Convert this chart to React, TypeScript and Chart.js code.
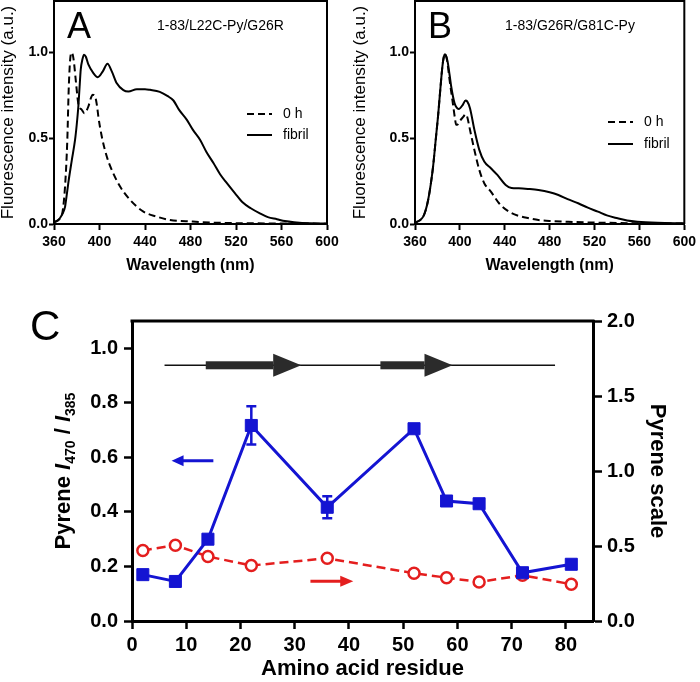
import React, { useEffect, useRef } from 'react';
import { Chart, registerables } from 'chart.js';

Chart.register(...registerables);

const FONT = '"Liberation Sans", Arial, Helvetica, sans-serif';
const BLUE = '#1414d2';
const RED = '#e41e1e';

// ---------- Panel A : 1-83/L22C-Py/G26R ----------
const aFibrilWl = [360, 363, 365.3, 367.5, 369.7, 371, 372.6, 375.6, 378.5, 380, 381.4, 382.5, 383.5, 385, 386.4, 388, 390.2, 394.6, 398.5, 402.9, 407, 410.8, 415.2, 421, 425.4, 432.8, 440, 444.5, 453, 460, 465, 470, 476.8, 482, 488.5, 494, 500.3, 506, 512, 519, 526, 533, 541, 548, 556, 563, 571, 585, 600];
const aFibrilInt = [0.01, 0.02, 0.035, 0.06, 0.1, 0.16, 0.24, 0.37, 0.49, 0.58, 0.685, 0.8, 0.9, 0.96, 0.987, 0.975, 0.93, 0.88, 0.856, 0.89, 0.934, 0.89, 0.82, 0.78, 0.772, 0.786, 0.786, 0.782, 0.77, 0.745, 0.72, 0.665, 0.607, 0.55, 0.49, 0.42, 0.354, 0.29, 0.238, 0.18, 0.125, 0.092, 0.062, 0.04, 0.028, 0.017, 0.01, 0.004, 0.003];
const a0hWl = [360, 365, 367.5, 369.7, 371.7, 372.9, 374, 374.7, 375.8, 376.7, 377.6, 379.4, 381.4, 384.4, 386.7, 388.5, 390.2, 392.5, 394, 395.5, 396.6, 398, 399, 402, 406.4, 410.8, 418.1, 427, 438.6, 450.4, 462, 482, 500, 520, 560, 600];
const a0hInt = [0.01, 0.03, 0.07, 0.218, 0.49, 0.78, 0.94, 0.987, 1.0, 0.98, 0.94, 0.82, 0.7, 0.666, 0.646, 0.66, 0.685, 0.735, 0.753, 0.75, 0.734, 0.68, 0.626, 0.51, 0.393, 0.315, 0.218, 0.14, 0.072, 0.043, 0.023, 0.014, 0.008, 0.005, 0.003, 0.002];

// ---------- Panel B : 1-83/G26R/G81C-Py ----------
const bFibrilWl = [360, 364, 367.3, 369.5, 371.7, 374, 376.1, 378.3, 380.5, 382.5, 384.4, 385.7, 386.7, 388, 389.3, 390.8, 392.3, 395.2, 397, 399, 402.6, 405, 406.5, 409, 412.9, 417.3, 421.7, 427.6, 433.4, 440.8, 446, 452.5, 461.3, 470, 480, 487.8, 496, 505.4, 514, 523, 531, 540.6, 549, 558.2, 576, 600];
const bFibrilInt = [0.008, 0.02, 0.043, 0.08, 0.14, 0.23, 0.334, 0.48, 0.626, 0.78, 0.918, 0.975, 0.99, 0.975, 0.938, 0.87, 0.8, 0.705, 0.68, 0.67, 0.695, 0.72, 0.715, 0.675, 0.55, 0.432, 0.364, 0.325, 0.286, 0.228, 0.21, 0.208, 0.204, 0.198, 0.185, 0.169, 0.145, 0.121, 0.095, 0.072, 0.05, 0.033, 0.02, 0.013, 0.007, 0.004];
const b0hWl = [360, 364, 367.3, 369.5, 371.7, 374, 376.1, 378.3, 380.5, 382.5, 384.4, 385.7, 386.7, 388.5, 390.8, 393.7, 395.5, 396.7, 398, 399.6, 403.2, 405, 406.5, 409, 412.9, 417.3, 421.7, 427.6, 434.9, 443.7, 452.5, 462, 470, 483, 496.5, 523, 560, 600];
const b0hInt = [0.008, 0.02, 0.043, 0.08, 0.14, 0.23, 0.334, 0.48, 0.626, 0.78, 0.918, 0.975, 0.99, 0.957, 0.84, 0.705, 0.62, 0.578, 0.58, 0.597, 0.626, 0.64, 0.625, 0.549, 0.432, 0.315, 0.238, 0.189, 0.121, 0.072, 0.047, 0.033, 0.023, 0.017, 0.013, 0.008, 0.004, 0.003];

const wavelengthTicks = [360, 400, 440, 480, 520, 560, 600];
const intensityTicks = [0, 0.5, 1.0];
const seriesLabels = ['0 h', 'fibril'];

// ---------- Panel C ----------
const residues = [2, 8, 14, 22, 36, 52, 58, 64, 72, 81];
const ratioI470I385 = [0.17, 0.145, 0.3, 0.717, 0.417, 0.705, 0.44, 0.43, 0.177, 0.208];
const ratioError = [0, 0, 0, 0.07, 0.04, 0, 0, 0, 0, 0];
const pyreneScale = [0.47, 0.505, 0.43, 0.37, 0.418, 0.318, 0.289, 0.26, 0.305, 0.245];
const residueTicks = [0, 10, 20, 30, 40, 50, 60, 70, 80];
const ratioTicks = [0, 0.2, 0.4, 0.6, 0.8, 1.0];
const scaleTicks = [0, 0.5, 1.0, 1.5, 2.0];
// secondary structure diagram (residue numbers, drawn at ratio level)
const topologyRange = [6, 78];
const topologyLevel = 0.9376;
const strandStart = [13.6, 45.8];
const strandTip = [31.2, 59.1];
// axis-indicator arrows: [fromResidue, toResidue, ratioLevel]
const blueArrow = [15, 7.3, 0.588];
const redArrow = [32.9, 40.8, 0.146];

const pts = (xs: number[], ys: number[]) => xs.map((x, i) => ({ x, y: ys[i] }));
const fixedTicks = (vals: number[]) => (s: any) => { s.ticks = vals.map((v) => ({ value: v })); };

// ---------- plugins ----------
const spectrumDecor = {
  id: 'spectrumDecor',
  afterDraw(chart: any, _a: any, o: any) {
    const { ctx, chartArea: ca } = chart;
    ctx.save();
    ctx.strokeStyle = '#000';
    ctx.lineWidth = 2;
    ctx.beginPath();
    ctx.moveTo(ca.left, ca.top);
    ctx.lineTo(ca.right, ca.top);
    ctx.lineTo(ca.right, ca.bottom);
    ctx.stroke();
    ctx.fillStyle = '#000';
    ctx.textAlign = 'left';
    ctx.textBaseline = 'alphabetic';
    ctx.font = `36px ${FONT}`;
    ctx.fillText(o.letter, o.letterX, o.letterY);
    ctx.font = `14px ${FONT}`;
    ctx.fillText(o.title, o.titleX, o.titleY);
    chart.data.datasets.forEach((ds: any, i: number) => {
      const y = o.legendY[i];
      ctx.setLineDash(ds.borderDash || []);
      ctx.lineWidth = 2;
      ctx.beginPath();
      ctx.moveTo(o.legendX, y);
      ctx.lineTo(o.legendX + 25, y);
      ctx.stroke();
      ctx.setLineDash([]);
      ctx.textBaseline = 'middle';
      ctx.fillText(ds.label, o.legendX + 36, y);
    });
    ctx.restore();
  },
};

function arrow(ctx: any, x1: number, x2: number, y: number, color: string, headLen: number, half: number, lw: number) {
  const dir = Math.sign(x2 - x1);
  ctx.strokeStyle = color;
  ctx.fillStyle = color;
  ctx.lineWidth = lw;
  ctx.beginPath();
  ctx.moveTo(x1, y);
  ctx.lineTo(x2 - dir * headLen * 0.8, y);
  ctx.stroke();
  ctx.beginPath();
  ctx.moveTo(x2, y);
  ctx.lineTo(x2 - dir * headLen, y - half);
  ctx.lineTo(x2 - dir * headLen, y + half);
  ctx.closePath();
  ctx.fill();
}

const residueDecor = {
  id: 'residueDecor',
  beforeDatasetsDraw(chart: any) {
    const { ctx, scales } = chart;
    const xs = scales.x, ys = scales.y;
    ctx.save();
    ctx.strokeStyle = BLUE;
    ctx.lineWidth = 2.5;
    residues.forEach((r, i) => {
      const e = ratioError[i];
      if (!e) return;
      const x = xs.getPixelForValue(r);
      const yt = ys.getPixelForValue(ratioI470I385[i] + e);
      const yb = ys.getPixelForValue(ratioI470I385[i] - e);
      ctx.beginPath();
      ctx.moveTo(x, yt); ctx.lineTo(x, yb);
      ctx.moveTo(x - 5, yt); ctx.lineTo(x + 5, yt);
      ctx.moveTo(x - 5, yb); ctx.lineTo(x + 5, yb);
      ctx.stroke();
    });
    ctx.restore();
  },
  afterDatasetsDraw(chart: any) {
    const { ctx, scales } = chart;
    const xs = scales.x, ys = scales.y;
    ctx.save();
    const ty = ys.getPixelForValue(topologyLevel);
    ctx.strokeStyle = '#111';
    ctx.lineWidth = 1.5;
    ctx.beginPath();
    ctx.moveTo(xs.getPixelForValue(topologyRange[0]), ty);
    ctx.lineTo(xs.getPixelForValue(topologyRange[1]), ty);
    ctx.stroke();
    ctx.fillStyle = '#2b2b2b';
    strandStart.forEach((s, i) => {
      const x0 = xs.getPixelForValue(s);
      const xt = xs.getPixelForValue(strandTip[i]);
      const xh = xt - 28;
      ctx.fillRect(x0, ty - 4, xh - x0, 8);
      ctx.beginPath();
      ctx.moveTo(xt, ty);
      ctx.lineTo(xh, ty - 11.5);
      ctx.lineTo(xh, ty + 11.5);
      ctx.closePath();
      ctx.fill();
    });
    const by = ys.getPixelForValue(blueArrow[2]);
    arrow(ctx, xs.getPixelForValue(blueArrow[0]), xs.getPixelForValue(blueArrow[1]), by, BLUE, 12, 5.5, 3);
    const ry = ys.getPixelForValue(redArrow[2]);
    arrow(ctx, xs.getPixelForValue(redArrow[0]), xs.getPixelForValue(redArrow[1]), ry, RED, 13, 5.5, 3);
    ctx.restore();
  },
  afterDraw(chart: any) {
    const { ctx, chartArea: ca } = chart;
    ctx.save();
    ctx.strokeStyle = '#000';
    ctx.lineWidth = 3;
    ctx.beginPath();
    ctx.moveTo(ca.left - 1.5, ca.top);
    ctx.lineTo(ca.right + 1.5, ca.top);
    ctx.stroke();
    ctx.fillStyle = '#000';
    ctx.font = `42px ${FONT}`;
    ctx.textBaseline = 'alphabetic';
    ctx.textAlign = 'left';
    ctx.fillText('C', 30, 40);
    // left axis title with italic I and subscripts
    const parts: [string, string, number][] = [
      ['Pyrene ', `bold 22px ${FONT}`, 0],
      ['I', `italic bold 22px ${FONT}`, 0],
      ['470', `bold 14px ${FONT}`, 5],
      [' / ', `bold 22px ${FONT}`, 0],
      ['I', `italic bold 22px ${FONT}`, 0],
      ['385', `bold 14px ${FONT}`, 5],
    ];
    let total = 0;
    parts.forEach(([t, f]) => { ctx.font = f; total += ctx.measureText(t).width; });
    ctx.translate(62, (ca.top + ca.bottom) / 2);
    ctx.rotate(-Math.PI / 2);
    let x = -total / 2;
    parts.forEach(([t, f, dy]) => {
      ctx.font = f;
      ctx.fillText(t, x, 8 + dy);
      x += ctx.measureText(t).width;
    });
    ctx.restore();
  },
};

const noVertPad = (s: any) => { s.paddingTop = 0; s.paddingBottom = 0; };

// ---------- configs ----------
function spectrumConfig(p: any) {
  const tickFont = { family: FONT, size: 14, weight: 'bold' as const };
  return {
    type: 'line' as const,
    data: {
      datasets: [
        { label: seriesLabels[0], data: pts(p.wl0, p.int0), borderColor: '#000', borderWidth: 2, borderDash: [7, 4], pointRadius: 0, cubicInterpolationMode: 'monotone' as const, fill: false },
        { label: seriesLabels[1], data: pts(p.wlF, p.intF), borderColor: '#000', borderWidth: 2, pointRadius: 0, cubicInterpolationMode: 'monotone' as const, fill: false },
      ],
    },
    options: {
      animation: false as const,
      responsive: false,
      layout: { padding: { left: 0, top: 1, right: p.padRight, bottom: 0 } },
      plugins: { legend: { display: false }, tooltip: { enabled: false }, spectrumDecor: p.decor },
      scales: {
        x: {
          type: 'linear' as const, min: 360, max: 600,
          afterBuildTicks: fixedTicks(wavelengthTicks),
          afterFit: (s: any) => { s.height = 76; },
          grid: { display: true, drawOnChartArea: false, drawTicks: true, tickLength: 6, tickWidth: 2, tickColor: '#000' },
          border: { display: true, color: '#000', width: 2 },
          ticks: { color: '#000', font: tickFont, padding: 4, maxRotation: 0, autoSkip: false },
          title: { display: true, text: 'Wavelength (nm)', color: '#000', font: { family: FONT, size: 16, weight: 'bold' as const }, padding: { top: 0, bottom: 25 } },
        },
        y: {
          type: 'linear' as const, min: 0, max: 1.3,
          afterBuildTicks: fixedTicks(intensityTicks),
          afterFit: (s: any) => { s.width = p.axisW; noVertPad(s); },
          grid: { display: true, drawOnChartArea: false, drawTicks: true, tickLength: 5, tickWidth: 2, tickColor: '#000' },
          border: { display: true, color: '#000', width: 2 },
          ticks: { color: '#000', font: tickFont, padding: 1, callback: (v: any) => Number(v).toFixed(1) },
          title: { display: true, text: 'Fluorescence intensity (a.u.)', color: '#000', font: { family: FONT, size: 17 }, padding: { top: p.titlePad, bottom: 0 } },
        },
      },
    },
    plugins: [spectrumDecor],
  };
}

function residueConfig() {
  const tickFont = { family: FONT, size: 20, weight: 'bold' as const };
  const gridBase = { display: true, drawOnChartArea: false, drawTicks: true, tickWidth: 2.5, tickColor: '#000' };
  return {
    type: 'line' as const,
    data: {
      datasets: [
        { label: 'ratio', data: pts(residues, ratioI470I385), yAxisID: 'y', borderColor: BLUE, borderWidth: 3, tension: 0, pointStyle: 'rect' as const, pointRadius: 8.5, pointBorderWidth: 1, pointBackgroundColor: BLUE, pointBorderColor: BLUE },
        { label: 'scale', data: pts(residues, pyreneScale), yAxisID: 'y1', borderColor: RED, borderWidth: 2.5, borderDash: [9, 5], tension: 0, pointStyle: 'circle' as const, pointRadius: 5.5, pointBorderWidth: 2.5, pointBackgroundColor: '#fff', pointBorderColor: RED },
      ],
    },
    options: {
      animation: false as const,
      responsive: false,
      layout: { padding: { left: 0, top: 21, right: 0, bottom: 0 } },
      plugins: { legend: { display: false }, tooltip: { enabled: false } },
      scales: {
        x: {
          type: 'linear' as const, min: 0, max: 85,
          afterBuildTicks: fixedTicks(residueTicks),
          afterFit: (s: any) => { s.height = 61; },
          grid: { ...gridBase, tickLength: 8 },
          border: { display: true, color: '#000', width: 3 },
          ticks: { color: '#000', font: tickFont, padding: 4, maxRotation: 0, autoSkip: false },
          title: { display: true, text: 'Amino acid residue', color: '#000', font: { family: FONT, size: 22, weight: 'bold' as const }, padding: { top: 0, bottom: 0 } },
        },
        y: {
          type: 'linear' as const, position: 'left' as const, min: 0, max: 1.1,
          afterBuildTicks: fixedTicks(ratioTicks),
          afterFit: (s: any) => { s.width = 132; noVertPad(s); },
          grid: { ...gridBase, tickLength: 8 },
          border: { display: true, color: '#000', width: 3 },
          ticks: { color: '#000', font: tickFont, padding: 6, callback: (v: any) => Number(v).toFixed(1) },
        },
        y1: {
          type: 'linear' as const, position: 'right' as const, min: 0, max: 2,
          afterBuildTicks: fixedTicks(scaleTicks),
          afterFit: (s: any) => { s.width = 107; noVertPad(s); },
          grid: { ...gridBase, tickLength: 9 },
          border: { display: true, color: '#000', width: 3 },
          ticks: { color: '#000', font: tickFont, padding: 5, callback: (v: any) => Number(v).toFixed(1) },
          title: { display: true, text: 'Pyrene scale', color: '#000', font: { family: FONT, size: 22, weight: 'bold' as const }, padding: { top: 30, bottom: 0 } },
        },
      },
    },
    plugins: [residueDecor],
  };
}

function ChartCanvas({ make, left, top, width, height }: any) {
  const ref = useRef<HTMLCanvasElement>(null);
  useEffect(() => {
    const chart = new Chart(ref.current as HTMLCanvasElement, make() as any);
    return () => chart.destroy();
  }, []);
  return (
    <canvas ref={ref} width={width} height={height}
      style={{ position: 'absolute', left, top, width, height }} />
  );
}

export default function App() {
  return (
    <div style={{ position: 'absolute', left: 0, top: 0, width: 700, height: 682, background: '#fff', overflow: 'hidden' }}>
      <ChartCanvas left={0} top={0} width={350} height={300}
        make={() => spectrumConfig({
          wl0: a0hWl, int0: a0hInt, wlF: aFibrilWl, intF: aFibrilInt,
          padRight: 23, axisW: 54, titlePad: -2,
          decor: { letter: 'A', letterX: 67, letterY: 38, title: '1-83/L22C-Py/G26R', titleX: 157, titleY: 30, legendX: 247, legendY: [114, 135] },
        })} />
      <ChartCanvas left={350} top={0} width={350} height={300}
        make={() => spectrumConfig({
          wl0: b0hWl, int0: b0hInt, wlF: bFibrilWl, intF: bFibrilInt,
          padRight: 13, axisW: 65, titlePad: 0,
          decor: { letter: 'B', letterX: 78, letterY: 38, title: '1-83/G26R/G81C-Py', titleX: 155, titleY: 30, legendX: 258, legendY: [122, 144] },
        })} />
      <ChartCanvas left={0} top={300} width={700} height={382} make={residueConfig} />
    </div>
  );
}
